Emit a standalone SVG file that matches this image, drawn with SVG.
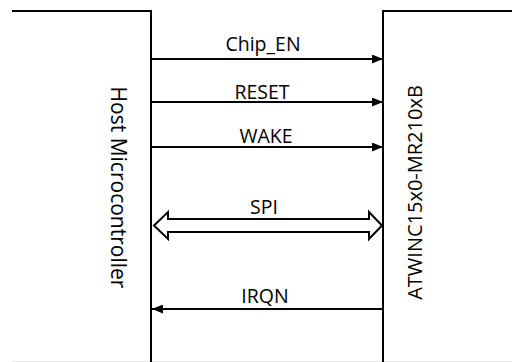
<svg xmlns="http://www.w3.org/2000/svg" width="512" height="362" viewBox="0 0 512 362">
<style>
.ln{stroke:#000;stroke-width:2;fill:none}
.lbl{font-family:"Open Sans","Liberation Sans",sans-serif;font-size:19.5px;fill:#000;text-anchor:middle}
.big{font-family:"Open Sans","Liberation Sans",sans-serif;fill:#000;text-anchor:middle}
</style>
<defs>
<marker id="ah" viewBox="0 0 11 9" refX="11" refY="4.5" markerWidth="11" markerHeight="9" markerUnits="userSpaceOnUse" orient="auto">
<path d="M0,0 L11,4.5 L0,9 Z" fill="#000"/>
</marker>
</defs>
<rect width="512" height="362" fill="#fff"/>
<line x1="12" y1="361.5" x2="512" y2="361.5" stroke="#e6e6e6" stroke-width="1"/>
<g id="host">
<path class="ln" d="M12,11 H151 V362"/>
<text class="big" font-size="21" transform="translate(111,187.5) rotate(90)">Host Microcontroller</text>
</g>
<g id="atwinc">
<path class="ln" d="M512,11 H383 V362"/>
<text class="big" font-size="20" transform="translate(422,192.5) rotate(-90)">ATWINC15x0-MR210xB</text>
</g>
<g id="connectors">
<line class="ln" x1="151" y1="59" x2="383" y2="59" marker-end="url(#ah)"/>
<text class="lbl" x="263" y="51">Chip_EN</text>
<line class="ln" x1="151" y1="102" x2="383" y2="102" marker-end="url(#ah)"/>
<text class="lbl" x="262" y="99">RESET</text>
<line class="ln" x1="151" y1="147" x2="383" y2="147" marker-end="url(#ah)"/>
<text class="lbl" x="266" y="143">WAKE</text>
<polygon class="ln" fill="#fff" points="154,225.5 168,212 168,219 369,219 369,212 382,225.5 369,239 369,232 168,232 168,239"/>
<text class="lbl" x="264" y="214">SPI</text>
<line class="ln" x1="383" y1="309" x2="152" y2="309" marker-end="url(#ah)"/>
<text class="lbl" x="265" y="303">IRQN</text>
</g>
</svg>
